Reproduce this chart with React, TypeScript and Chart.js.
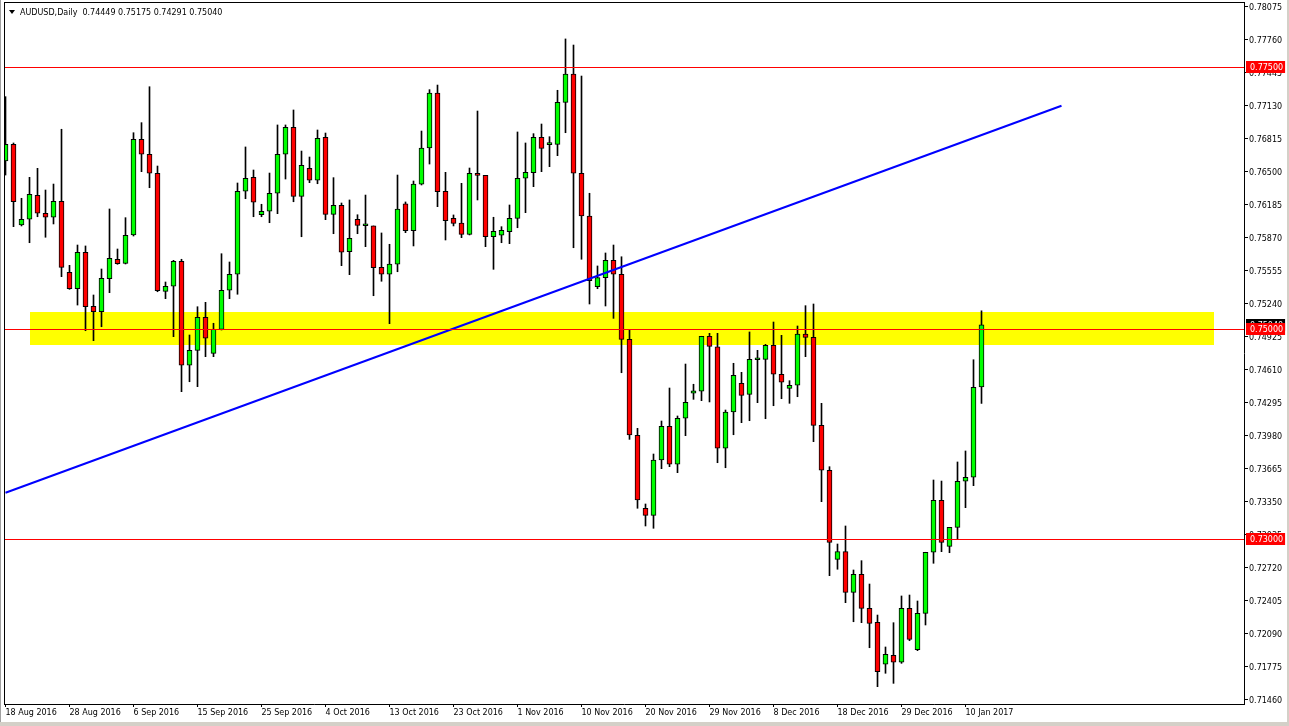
import React, { useEffect, useRef } from "react";
import { Chart, registerables } from "chart.js";

Chart.register(...registerables);

const symbolTitle = "AUDUSD,Daily";

// date labels, one every 8 daily bars starting at bar 0
const dateLabels = [
  "18 Aug 2016", "28 Aug 2016", "6 Sep 2016", "15 Sep 2016", "25 Sep 2016", "4 Oct 2016",
  "13 Oct 2016", "23 Oct 2016", "1 Nov 2016", "10 Nov 2016", "20 Nov 2016", "29 Nov 2016",
  "8 Dec 2016", "18 Dec 2016", "29 Dec 2016", "10 Jan 2017",
];
const labelEvery = 8;

const opens = [
  0.76605, 0.76764, 0.75994, 0.76049, 0.76278, 0.76106, 0.76068, 0.76220, 0.75543, 0.75386,
  0.75734, 0.75218, 0.75166, 0.75481, 0.75667, 0.75628, 0.75899, 0.76812, 0.76669, 0.76488,
  0.75361, 0.75409, 0.75648, 0.74655, 0.74798, 0.75113, 0.74769, 0.74998, 0.75371, 0.75524,
  0.76316, 0.76449, 0.76092, 0.76125, 0.76297, 0.76669, 0.76927, 0.76268, 0.76535, 0.76421,
  0.76831, 0.76096, 0.76182, 0.75739, 0.76049, 0.75987, 0.75985, 0.75590, 0.75524, 0.75619,
  0.76195, 0.75940, 0.76383, 0.76729, 0.77254, 0.76316, 0.76058, 0.76013, 0.75905, 0.76488,
  0.76468, 0.75882, 0.75896, 0.75930, 0.76058, 0.76440, 0.76493, 0.76831, 0.76761, 0.76764,
  0.77165, 0.77435, 0.76488, 0.76080, 0.75405, 0.75491, 0.75657, 0.75524, 0.74903, 0.73987,
  0.73290, 0.73223, 0.73751, 0.74073, 0.73710, 0.74149, 0.74388, 0.74407, 0.74932, 0.74830,
  0.73863, 0.74209, 0.74483, 0.74378, 0.74708, 0.74712, 0.74846, 0.74569, 0.74435, 0.74464,
  0.74954, 0.74922, 0.74082, 0.73653, 0.72803, 0.72876, 0.72488, 0.72660, 0.72335, 0.72202,
  0.71801, 0.71887, 0.71820, 0.72335, 0.71940, 0.72287, 0.72870, 0.73366, 0.72927, 0.73108,
  0.73548, 0.73586, 0.74449,
];
const highs = [
  0.77219, 0.76777, 0.76249, 0.76449, 0.76535, 0.76328, 0.76385, 0.76908, 0.75609, 0.75803,
  0.75794, 0.75326, 0.75574, 0.76147, 0.75765, 0.76064, 0.76875, 0.76971, 0.77314, 0.76557,
  0.75450, 0.75657, 0.75667, 0.74944, 0.75214, 0.75256, 0.75056, 0.75720, 0.75641, 0.76395,
  0.76739, 0.76519, 0.76192, 0.76490, 0.76949, 0.76949, 0.77092, 0.76700, 0.76643, 0.76901,
  0.76872, 0.76446, 0.76204, 0.76233, 0.76092, 0.76280, 0.75985, 0.75918, 0.75810, 0.76471,
  0.76214, 0.76414, 0.76891, 0.77286, 0.77330, 0.76497, 0.76090, 0.76392, 0.76538, 0.77082,
  0.76468, 0.76068, 0.75978, 0.76185, 0.76882, 0.76777, 0.76866, 0.76958, 0.76837, 0.77280,
  0.77770, 0.77712, 0.77416, 0.76297, 0.75603, 0.75727, 0.75803, 0.75691, 0.74992, 0.74053,
  0.73331, 0.73808, 0.74123, 0.74438, 0.74171, 0.74667, 0.74474, 0.74932, 0.74960, 0.74960,
  0.74228, 0.74674, 0.74588, 0.74973, 0.74798, 0.74855, 0.75068, 0.74941, 0.74508, 0.75030,
  0.75224, 0.75240, 0.74292, 0.73687, 0.72949, 0.73121, 0.72701, 0.72790, 0.72567, 0.72271,
  0.71966, 0.72198, 0.72453, 0.72462, 0.72405, 0.72870, 0.73560, 0.73550, 0.73108, 0.73732,
  0.73837, 0.74708, 0.75175,
];
const lows = [
  0.76471, 0.75978, 0.75985, 0.75825, 0.76073, 0.75877, 0.76004, 0.75501, 0.75380, 0.75230,
  0.74985, 0.74890, 0.75023, 0.75348, 0.75619, 0.75622, 0.75889, 0.76503, 0.76350, 0.75357,
  0.75291, 0.74928, 0.74403, 0.74498, 0.74451, 0.74737, 0.74737, 0.74992, 0.75291, 0.75333,
  0.76245, 0.76073, 0.76073, 0.76016, 0.76102, 0.76433, 0.76216, 0.75882, 0.76398, 0.76388,
  0.76045, 0.75911, 0.75606, 0.75520, 0.75911, 0.75787, 0.75319, 0.75457, 0.75052, 0.75548,
  0.75921, 0.75794, 0.76376, 0.76576, 0.76169, 0.75851, 0.75985, 0.75873, 0.75899, 0.76233,
  0.75787, 0.75571, 0.75825, 0.75816, 0.75968, 0.76112, 0.76360, 0.76503, 0.76551, 0.76656,
  0.76875, 0.75777, 0.75667, 0.75240, 0.75386, 0.75221, 0.75103, 0.74584, 0.73948, 0.73290,
  0.73121, 0.73099, 0.73668, 0.73687, 0.73630, 0.73983, 0.74330, 0.74317, 0.74305, 0.73725,
  0.73677, 0.73992, 0.74107, 0.74126, 0.74298, 0.74145, 0.74269, 0.74336, 0.74292, 0.74355,
  0.74737, 0.73926, 0.73353, 0.72647, 0.72708, 0.72389, 0.72207, 0.72198, 0.71959, 0.71587,
  0.71715, 0.71619, 0.71810, 0.72026, 0.71931, 0.72176, 0.72765, 0.72876, 0.72866, 0.72994,
  0.73296, 0.73506, 0.74291,
];
const closes = [
  0.76764, 0.76216, 0.76049, 0.76287, 0.76106, 0.76068, 0.76220, 0.75590, 0.75386, 0.75734,
  0.75214, 0.75166, 0.75485, 0.75676, 0.75625, 0.75896, 0.76812, 0.76669, 0.76488, 0.75367,
  0.75409, 0.75648, 0.74655, 0.74798, 0.75113, 0.74913, 0.74998, 0.75371, 0.75524, 0.76316,
  0.76440, 0.76211, 0.76125, 0.76297, 0.76669, 0.76927, 0.76268, 0.76564, 0.76421, 0.76822,
  0.76096, 0.76182, 0.75734, 0.75867, 0.75991, 0.75987, 0.75587, 0.75524, 0.75622, 0.76147,
  0.75940, 0.76385, 0.76729, 0.77254, 0.76312, 0.76035, 0.76010, 0.75905, 0.76488, 0.76468,
  0.75882, 0.75934, 0.75943, 0.76058, 0.76440, 0.76497, 0.76831, 0.76726, 0.76761, 0.77165,
  0.77435, 0.76488, 0.76080, 0.75462, 0.75491, 0.75657, 0.75524, 0.74903, 0.73990, 0.73369,
  0.73223, 0.73751, 0.74073, 0.73710, 0.74149, 0.74302, 0.74410, 0.74932, 0.74836, 0.73863,
  0.74209, 0.74559, 0.74368, 0.74712, 0.74708, 0.74846, 0.74569, 0.74493, 0.74464, 0.74954,
  0.74922, 0.74082, 0.73653, 0.72965, 0.72876, 0.72488, 0.72660, 0.72335, 0.72192, 0.71730,
  0.71896, 0.71820, 0.72335, 0.72039, 0.72287, 0.72870, 0.73366, 0.72965, 0.73108, 0.73548,
  0.73586, 0.74445, 0.75040,
];

const priceTicks = [
  0.78075, 0.7776, 0.77445, 0.7713, 0.76815, 0.765, 0.76185, 0.7587, 0.75555, 0.7524, 0.74925,
  0.7461, 0.74295, 0.7398, 0.73665, 0.7335, 0.73035, 0.7272, 0.72405, 0.7209, 0.71775, 0.7146,
];
const levelPrices = [0.775, 0.75, 0.73];
const zoneBars = [3, 151];
const zonePrices = [0.75162, 0.74847];
const trendBars = [0, 132];
const trendPrices = [0.73438, 0.77132];

const X_MIN = -0.1875;
const X_MAX = 154.8125;
const Y_MIN = 0.714218;
const Y_MAX = 0.781227;

const FONT = "DejaVu Sans";
const BULL = "#00ff00";
const BEAR = "#ff0000";
const LEVEL = "#ff0000";

export default function App() {
  const ref = useRef<HTMLCanvasElement | null>(null);

  useEffect(() => {
    document.body.style.margin = "0";
    document.body.style.background = "#ffffff";
    const canvas = ref.current;
    if (!canvas) return;

    const idx = opens.map((_, i) => i);
    const last = opens.length - 1;

    const overlayPlugin = {
      id: "mt4overlay",
      beforeDatasetsDraw(chart: any) {
        const { ctx, chartArea, scales } = chart;
        const xs = scales.x;
        const ys = scales.y;
        ctx.save();
        ctx.beginPath();
        ctx.rect(chartArea.left, chartArea.top, chartArea.right - chartArea.left, chartArea.bottom - chartArea.top);
        ctx.clip();
        const x1 = Math.round(xs.getPixelForValue(zoneBars[0]));
        const x2 = Math.round(xs.getPixelForValue(zoneBars[1]));
        const y1 = Math.round(ys.getPixelForValue(zonePrices[0]));
        const y2 = Math.round(ys.getPixelForValue(zonePrices[1]));
        ctx.fillStyle = "#ffff00";
        ctx.fillRect(x1, y1, x2 - x1, y2 - y1);
        ctx.restore();
      },
      afterDatasetsDraw(chart: any) {
        const { ctx, chartArea, scales } = chart;
        const ys = scales.y;
        ctx.save();
        ctx.fillStyle = LEVEL;
        for (const p of levelPrices) {
          const y = Math.round(ys.getPixelForValue(p));
          ctx.fillRect(chartArea.left, y, chartArea.right - chartArea.left, 1);
        }
        // chart frame left/top
        ctx.fillStyle = "#000000";
        ctx.fillRect(chartArea.left, chartArea.top, 1, chartArea.bottom - chartArea.top);
        ctx.fillRect(chartArea.left, chartArea.top, chartArea.right - chartArea.left, 1);
        ctx.restore();
      },
      afterDraw(chart: any) {
        const { ctx, chartArea, scales } = chart;
        const ys = scales.y;
        ctx.save();
        ctx.font = `8px "${FONT}"`;
        ctx.textBaseline = "middle";
        ctx.textAlign = "left";
        const drawBox = (p: number, bg: string) => {
          const y = Math.round(ys.getPixelForValue(p));
          const txt = p.toFixed(5);
          const w = ctx.measureText(txt).width;
          const bx = chartArea.right + 2;
          ctx.fillStyle = bg;
          ctx.fillRect(bx, y - 6, w + 6, 12);
          ctx.fillStyle = "#ffffff";
          ctx.fillText(txt, bx + 4, y + 1);
        };
        drawBox(closes[last], "#000000");
        for (const p of levelPrices) drawBox(p, "#ff0000");

        // title
        ctx.fillStyle = "#000000";
        ctx.beginPath();
        ctx.moveTo(9, 10);
        ctx.lineTo(15, 10);
        ctx.lineTo(12, 14);
        ctx.closePath();
        ctx.fill();
        const title = `${symbolTitle}  ${opens[last].toFixed(5)} ${highs[last].toFixed(5)} ${lows[last].toFixed(5)} ${closes[last].toFixed(5)}`;
        ctx.fillText(title, 20, 13);

        // window edges
        ctx.fillStyle = "#a0a0a0";
        ctx.fillRect(0, 0, 1, 726);
        ctx.fillStyle = "#d4d0c8";
        ctx.fillRect(1287, 0, 2, 726);
        ctx.fillRect(0, 722, 1289, 4);
        ctx.restore();
      },
    };

    const chart = new Chart(canvas, {
      type: "bar",
      data: {
        datasets: [
          {
            type: "line",
            label: "trend",
            data: trendBars.map((b, i) => ({ x: b, y: trendPrices[i] })),
            borderColor: "#0000ff",
            borderWidth: 2,
            pointRadius: 0,
            order: 0,
          } as any,
          {
            label: "body",
            data: idx.map((i) => ({ x: i, y: [opens[i], closes[i]] })),
            backgroundColor: idx.map((i) => (closes[i] >= opens[i] ? BULL : BEAR)),
            borderColor: "#000000",
            borderWidth: 1,
            borderSkipped: false,
            barThickness: 5,
            minBarLength: 2,
            grouped: false,
            order: 1,
          } as any,
          {
            label: "wick",
            data: idx.map((i) => ({ x: i, y: [lows[i], highs[i]] })),
            backgroundColor: "#000000",
            borderWidth: 0,
            barThickness: 1,
            grouped: false,
            order: 2,
          } as any,
        ],
      },
      options: {
        responsive: false,
        maintainAspectRatio: false,
        devicePixelRatio: 1,
        animation: false,
        events: [],
        layout: { padding: { left: 4, top: 2, right: 0, bottom: 0 } },
        plugins: { legend: { display: false }, tooltip: { enabled: false }, title: { display: false } },
        scales: {
          x: {
            type: "linear",
            min: X_MIN,
            max: X_MAX,
            offset: false,
            afterBuildTicks: (scale: any) => {
              scale.ticks = dateLabels.map((_, k) => ({ value: k * labelEvery }));
            },
            afterFit: (scale: any) => {
              scale.height = 22;
              scale.paddingLeft = 0;
              scale.paddingRight = 0;
              scale.paddingTop = 0;
              scale.paddingBottom = 0;
            },
            ticks: {
              autoSkip: false,
              maxRotation: 0,
              minRotation: 0,
              align: "start",
              padding: 1,
              color: "#000000",
              font: { family: FONT, size: 8 },
              callback: (v: any) => dateLabels[Math.round(Number(v) / labelEvery)] ?? "",
            },
            grid: { drawOnChartArea: false, drawTicks: true, tickLength: 3, color: "#000000", offset: false },
            border: { display: true, color: "#000000", width: 1 },
          },
          y: {
            type: "linear",
            position: "right",
            min: Y_MIN,
            max: Y_MAX,
            beginAtZero: false,
            afterBuildTicks: (scale: any) => {
              scale.ticks = priceTicks.map((v) => ({ value: v }));
            },
            afterFit: (scale: any) => {
              scale.width = 45;
              scale.paddingLeft = 0;
              scale.paddingRight = 0;
              scale.paddingTop = 0;
              scale.paddingBottom = 0;
            },
            ticks: {
              padding: 1,
              labelOffset: 1,
              color: "#000000",
              font: { family: FONT, size: 8 },
              callback: (v: any) => Number(v).toFixed(5),
            },
            grid: { drawOnChartArea: false, drawTicks: true, tickLength: 4, color: "#000000" },
            border: { display: true, color: "#000000", width: 1 },
          },
        },
      } as any,
      plugins: [overlayPlugin],
    });

    return () => {
      chart.destroy();
    };
  }, []);

  return (
    <div style={{ width: 1289, height: 726, background: "#ffffff" }}>
      <canvas ref={ref} width={1289} height={726} style={{ display: "block", width: 1289, height: 726 }} />
    </div>
  );
}
